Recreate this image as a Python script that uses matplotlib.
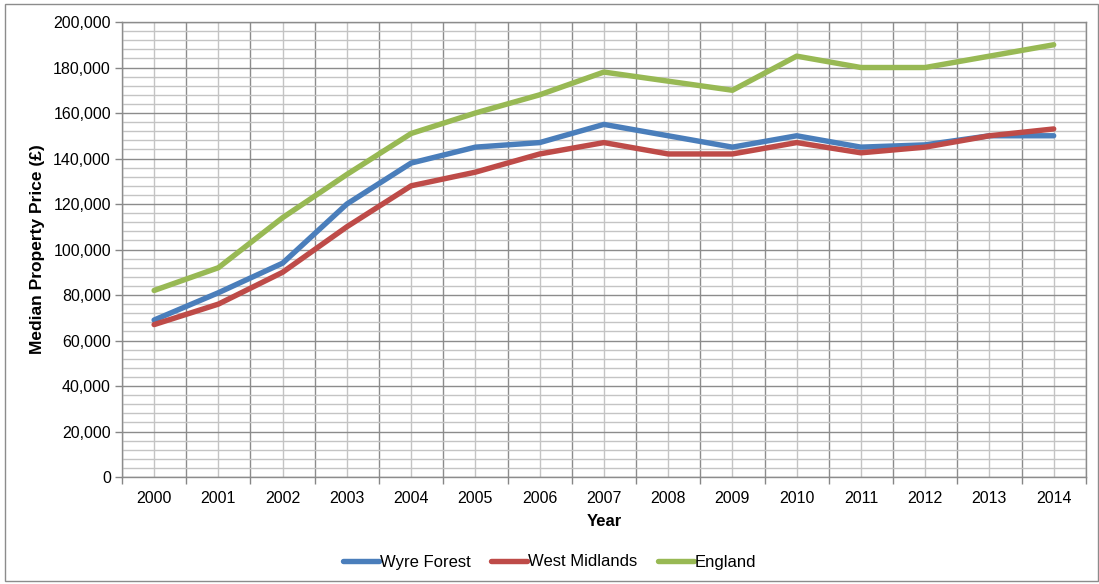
import matplotlib
matplotlib.use("Agg")
import matplotlib.pyplot as plt
from matplotlib.patches import Rectangle
from matplotlib.ticker import MultipleLocator, FuncFormatter, FixedLocator, NullFormatter

plt.rcParams['font.family'] = ['Liberation Sans', 'DejaVu Sans']

years = ['2000', '2001', '2002', '2003', '2004', '2005', '2006', '2007',
         '2008', '2009', '2010', '2011', '2012', '2013', '2014']
wyre_forest = [69000, 81000, 94000, 120000, 138000, 145000, 147000, 155000,
               150000, 145000, 150000, 145000, 146000, 150000, 150000]
west_midlands = [67000, 76000, 90000, 110000, 128000, 134000, 142000, 147000,
                 142000, 142000, 147000, 142500, 145000, 150000, 153000]
england = [82000, 92000, 114000, 133000, 151000, 160000, 168000, 178000,
           174000, 170000, 185000, 180000, 180000, 185000, 190000]

series = [("Wyre Forest", wyre_forest, "#4a7ebb"),
          ("West Midlands", west_midlands, "#be4b48"),
          ("England", england, "#98b954")]

fig = plt.figure(figsize=(10.99, 5.84), dpi=100)
ax = fig.add_axes([0.111, 0.1832, 0.877, 0.7791])

x = list(range(len(years)))
for name, vals, col in series:
    ax.plot(x, vals, color=col, lw=3.9, solid_capstyle='round',
            solid_joinstyle='round', label=name, zorder=3)

ax.set_xlim(-0.5, len(years) - 0.5)
ax.set_ylim(0, 200000)

# category boundaries carry the tick marks, centres carry the labels
ax.xaxis.set_major_locator(FixedLocator([i - 0.5 for i in range(len(years) + 1)]))
ax.xaxis.set_major_formatter(NullFormatter())
ax.set_xticks(x, years, minor=True)
ax.tick_params(axis='x', which='major', length=5, color='#868686', width=1)
ax.tick_params(axis='x', which='minor', length=0, pad=10, labelsize=11.5)

ax.yaxis.set_major_locator(MultipleLocator(20000))
ax.yaxis.set_minor_locator(MultipleLocator(4000))
ax.yaxis.set_major_formatter(FuncFormatter(lambda v, p: f"{int(v):,}"))
ax.tick_params(axis='y', which='major', length=5, color='#868686', width=1,
               labelsize=11.5, pad=3)
ax.tick_params(axis='y', which='minor', length=0)

ax.grid(True, which='major', color='#8c8c8c', lw=1.0, zorder=0)
ax.grid(True, which='minor', color='#c4c4c4', lw=1.0, zorder=0)
ax.set_axisbelow(True)

for s in ax.spines.values():
    s.set_color('#8c8c8c')
    s.set_linewidth(1.0)

ax.set_xlabel("Year", fontsize=12, fontweight='bold', labelpad=6)
ax.set_ylabel("Median Property Price (£)", fontsize=12.5, fontweight='bold', labelpad=6)

ax.legend(loc='center', bbox_to_anchor=(0.5, 22 / 584), bbox_transform=fig.transFigure,
          ncol=3, frameon=False, fontsize=12, handlelength=2.2, handletextpad=0.05,
          columnspacing=1.2)

fig.patches.append(Rectangle((5 / 1099, 3 / 584), 1093 / 1099, 577 / 584,
                             transform=fig.transFigure, fill=False,
                             edgecolor='#8c8c8c', lw=1.0))

fig.savefig("out.png", dpi=100)
